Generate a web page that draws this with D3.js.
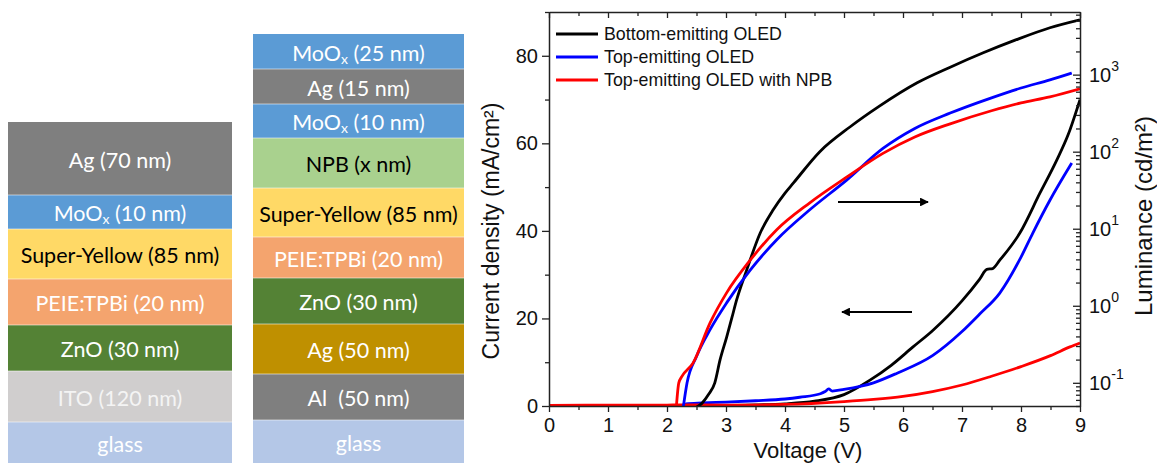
<!DOCTYPE html>
<html>
<head>
<meta charset="utf-8">
<script src="https://cdn.jsdelivr.net/npm/d3@7"></script>
<style>
  html, body { margin: 0; padding: 0; background: #fff; }
  svg { display: block; }
  text { white-space: pre; }
</style>
</head>
<body>
<svg id="chart" width="1157" height="463"></svg>
<script>
// ---------------- DATA ----------------
// Device stacks (top -> bottom)
const bottomStackLabels = ["Ag (70 nm)", "MoOx (10 nm)", "Super-Yellow (85 nm)", "PEIE:TPBi (20 nm)", "ZnO (30 nm)", "ITO (120 nm)", "glass"];
const topStackLabels = ["MoOx (25 nm)", "Ag (15 nm)", "MoOx (10 nm)", "NPB (x nm)", "Super-Yellow (85 nm)", "PEIE:TPBi (20 nm)", "ZnO (30 nm)", "Ag (50 nm)", "Al  (50 nm)", "glass"];

// Series
const seriesNames = ["Bottom-emitting OLED", "Top-emitting OLED", "Top-emitting OLED with NPB"];

// Current density (mA/cm2) vs voltage (V)
const bottomJ = [[0,0.05],[2.0,0.05],[2.5,0.1],[3.0,0.15],[3.5,0.25],[4.0,0.5],[4.5,1.1],[5.0,2.6],[5.44,5.9],[5.8,9.3],[6.17,13.5],[6.5,17.2],[7.0,24],[7.3,29],[7.42,31.2],[7.52,31.4],[7.64,33.3],[7.98,39.5],[8.32,48.6],[8.6,56],[8.8,62],[9.0,70]];
const topJ = [[0,0.05],[2.28,0.1],[2.32,0.5],[2.6,0.7],[3.0,0.9],[3.5,1.2],[4.0,1.6],[4.25,2.0],[4.6,2.8],[4.68,3.3],[4.74,3.9],[4.8,3.4],[5.0,3.8],[5.5,5.3],[5.9,7.5],[6.5,11.5],[7.0,17],[7.3,21],[7.64,25.8],[8.0,34],[8.2,39.5],[8.49,47],[8.86,55.5]];
const npbJ = [[0,0.15],[1,0.2],[2,0.2],[2.2,0.25],[3,0.2],[4,0.35],[5,1.0],[5.5,1.5],[6,2.2],[6.5,3.3],[7,4.8],[7.5,6.8],[8,9.0],[8.5,11.5],[8.83,13.5],[9,14.4]];

// Luminance (cd/m2) vs voltage (V)
const bottomL = [[2.4,0.045],[2.6,0.055],[2.7,0.07],[2.81,0.1],[2.9,0.2],[3.01,0.39],[3.1,0.7],[3.18,1.19],[3.35,2.9],[3.58,8.8],[3.8,17.6],[4.0,29],[4.14,39],[4.59,100],[5.1,209],[5.6,390],[6.24,784],[6.8,1250],[7.36,1920],[7.9,2800],[8.49,4060],[9.0,5150]];
const topL = [[2.27,0.045],[2.34,0.1],[2.5,0.22],[2.73,0.49],[3.01,1.09],[3.41,2.9],[3.86,7.2],[4.42,17.6],[5.05,43],[5.66,110],[6.2,200],[6.8,317],[7.5,500],[8.0,670],[8.49,855],[8.86,1050]];
const npbL = [[2.15,0.04],[2.2,0.1],[2.25,0.12],[2.44,0.18],[2.73,0.6],[3.01,1.47],[3.41,3.9],[3.86,9.7],[4.42,21.7],[5.05,47],[5.66,95],[6.2,155],[6.8,230],[7.5,340],[8.0,430],[8.49,515],[9.0,655]];

// Ticks
const xTicks = [0,1,2,3,4,5,6,7,8,9];
const yLeftTicks = [0,20,40,60,80];
const yRightExponents = [-1,0,1,2,3];

// ---------------- LAYOUT / STYLE ----------------
const bottomStackStyle = {x0: 8, x1: 232, edges: [122,195,229,279,325,371,422,470],
  fills: ["#7f7f7f","#5b9bd5","#ffd966","#f4a46e","#548235","#d0cece","#b4c7e7"],
  textColors: ["#fff","#fff","#000","#fff","#fff","#f4f4f4","#fff"]};
const topStackStyle = {x0: 253, x1: 464, edges: [34,69,104,138,188,237,278,324,374,420,470],
  fills: ["#5b9bd5","#7f7f7f","#5b9bd5","#a9d18e","#ffd966","#f4a46e","#548235","#bf9000","#7f7f7f","#b4c7e7"],
  textColors: ["#fff","#fff","#fff","#000","#000","#fff","#fff","#fff","#fff","#fff"]};
const seriesColors = ["#000000", "#0000ff", "#ff0000"];

const svg = d3.select("#chart");

function drawStack(labels, st) {
  const g = svg.append("g");
  labels.forEach((lab, i) => {
    const y0 = st.edges[i], y1 = st.edges[i+1];
    g.append("rect").attr("x", st.x0).attr("y", y0).attr("width", st.x1 - st.x0).attr("height", y1 - y0)
      .attr("fill", st.fills[i]);
    if (i > 0) {
      g.append("line").attr("x1", st.x0).attr("x2", st.x1).attr("y1", y0).attr("y2", y0)
        .attr("stroke", "#ffffff").attr("stroke-opacity", 0.55).attr("stroke-width", 1);
    }
    const cy = (y0 + Math.min(y1, 463)) / 2 + 1;
    const t = g.append("text").attr("x", (st.x0 + st.x1) / 2).attr("y", cy)
      .attr("text-anchor", "middle").attr("dominant-baseline", "central")
      .attr("font-family", "Lato, 'Open Sans', sans-serif").attr("font-size", 21.5)
      .attr("fill", st.textColors[i]);
    if (lab.startsWith("MoOx")) {
      t.append("tspan").text("MoO");
      t.append("tspan").attr("font-size", 14).attr("dy", 5).text("x");
      t.append("tspan").attr("dy", -5).text(lab.slice(4));
    } else {
      t.text(lab);
    }
  });
}
drawStack(bottomStackLabels, bottomStackStyle);
drawStack(topStackLabels, topStackStyle);

// ---------------- CHART ----------------
const X0 = 549, X1 = 1080, Y0 = 12, Y1 = 406;
const x = d3.scaleLinear().domain([0, 9]).range([X0, X1]);
const yL = d3.scaleLinear().domain([0, 90]).range([Y1, Y0]);
const yR = d3.scaleLog().domain([0.05, 6500]).range([Y1, Y0]);

const font = "'Liberation Sans', Arial, sans-serif";

svg.append("defs").append("clipPath").attr("id", "plotclip")
  .append("rect").attr("x", X0).attr("y", Y0 - 2).attr("width", X1 - X0).attr("height", Y1 - Y0 + 2);

const plot = svg.append("g").attr("clip-path", "url(#plotclip)");
const lineJ = d3.line().x(d => x(d[0])).y(d => yL(d[1])).curve(d3.curveMonotoneX);
const lineL = d3.line().x(d => x(d[0])).y(d => yR(d[1])).curve(d3.curveMonotoneX);

const jSeries = [bottomJ, topJ, npbJ];
const lSeries = [bottomL, topL, npbL];
[0,1,2].forEach(i => {
  plot.append("path").datum(jSeries[i]).attr("d", lineJ).attr("fill", "none")
    .attr("stroke", seriesColors[i]).attr("stroke-width", 2.8).attr("stroke-linejoin", "round");
});
[0,1,2].forEach(i => {
  plot.append("path").datum(lSeries[i]).attr("d", lineL).attr("fill", "none")
    .attr("stroke", seriesColors[i]).attr("stroke-width", 2.8).attr("stroke-linejoin", "round");
});

// Axes
function styleAxis(g) {
  g.selectAll("path.domain").attr("stroke", "#222").attr("stroke-width", 1.5);
  g.selectAll("line").attr("stroke", "#222").attr("stroke-width", 1.3);
  g.selectAll("text").attr("font-family", font).attr("font-size", 20).attr("fill", "#111");
}
const xMinor = d3.range(0.5, 9, 1);
// bottom
svg.append("g").attr("transform", `translate(0,${Y1})`)
  .call(d3.axisBottom(x).tickValues(xTicks).tickFormat(d3.format("d")).tickSizeInner(6).tickSizeOuter(0).tickPadding(6))
  .call(styleAxis);
svg.append("g").attr("transform", `translate(0,${Y1})`)
  .call(d3.axisBottom(x).tickValues(xMinor).tickFormat("").tickSizeInner(4).tickSizeOuter(0))
  .call(styleAxis).call(g => g.select(".domain").remove());
// top
svg.append("g").attr("transform", `translate(0,${Y0})`)
  .call(d3.axisTop(x).tickValues(xTicks).tickFormat("").tickSizeInner(-6).tickSizeOuter(0))
  .call(styleAxis);
svg.append("g").attr("transform", `translate(0,${Y0})`)
  .call(d3.axisTop(x).tickValues(xMinor).tickFormat("").tickSizeInner(-4).tickSizeOuter(0))
  .call(styleAxis).call(g => g.select(".domain").remove());
// left
svg.append("g").attr("transform", `translate(${X0},0)`)
  .call(d3.axisLeft(yL).tickValues(yLeftTicks).tickFormat(d3.format("d")).tickSizeInner(7).tickSizeOuter(0).tickPadding(4))
  .call(styleAxis);
svg.append("g").attr("transform", `translate(${X0},0)`)
  .call(d3.axisLeft(yL).tickValues([10,30,50,70,90]).tickFormat("").tickSizeInner(4).tickSizeOuter(0))
  .call(styleAxis).call(g => g.select(".domain").remove());
// right (log)
const rMajor = yRightExponents.map(e => Math.pow(10, e));
const rMinor = [];
for (let e = -2; e <= 3; e++) for (let m = 2; m <= 9; m++) {
  const v = m * Math.pow(10, e);
  if (v >= 0.05 && v <= 6500) rMinor.push(v);
}
const rightAxis = svg.append("g").attr("transform", `translate(${X1},0)`)
  .call(d3.axisRight(yR).tickValues(rMajor).tickFormat("").tickSizeInner(-7).tickSizeOuter(0).tickPadding(10))
  .call(styleAxis);
rightAxis.selectAll(".tick text").each(function(d) {
  const t = d3.select(this);
  const e = Math.round(Math.log10(d));
  t.text(null).attr("x", 9).attr("dy", "0.32em");
  t.append("tspan").text("10");
  t.append("tspan").attr("font-size", 14).attr("dy", "-0.75em").text(String(e));
});
svg.append("g").attr("transform", `translate(${X1},0)`)
  .call(d3.axisRight(yR).tickValues(rMinor).tickFormat("").tickSizeInner(-4).tickSizeOuter(0))
  .call(styleAxis).call(g => g.select(".domain").remove());

// Titles
svg.append("text").attr("x", 808).attr("y", 458).attr("text-anchor", "middle")
  .attr("font-family", font).attr("font-size", 22).attr("fill", "#111").text("Voltage (V)");
svg.append("text").attr("transform", "translate(491,231) rotate(-90)").attr("text-anchor", "middle")
  .attr("dominant-baseline", "central").attr("font-family", font).attr("font-size", 23).attr("fill", "#111")
  .text("Current density (mA/cm²)");
svg.append("text").attr("transform", "translate(1143,216) rotate(-90)").attr("text-anchor", "middle")
  .attr("dominant-baseline", "central").attr("font-family", font).attr("font-size", 24).attr("fill", "#111")
  .text("Luminance (cd/m²)");

// Legend
const legend = svg.append("g");
seriesNames.forEach((name, i) => {
  const ly = 34 + i * 23;
  legend.append("line").attr("x1", 556).attr("x2", 598).attr("y1", ly).attr("y2", ly)
    .attr("stroke", seriesColors[i]).attr("stroke-width", 3);
  legend.append("text").attr("x", 604).attr("y", ly).attr("dominant-baseline", "central")
    .attr("font-family", font).attr("font-size", 17.8).attr("fill", "#111").text(name);
});

// Arrows
const defs = svg.select("defs");
defs.append("marker").attr("id", "ah").attr("viewBox", "0 0 10 10").attr("refX", 9).attr("refY", 5)
  .attr("markerWidth", 5).attr("markerHeight", 4).attr("markerUnits", "strokeWidth").attr("orient", "auto")
  .append("path").attr("d", "M0,0 L10,5 L0,10 Z").attr("fill", "#000");
svg.append("line").attr("x1", 838).attr("x2", 928).attr("y1", 202).attr("y2", 202)
  .attr("stroke", "#000").attr("stroke-width", 2.2).attr("marker-end", "url(#ah)");
svg.append("line").attr("x1", 912).attr("x2", 842).attr("y1", 312).attr("y2", 312)
  .attr("stroke", "#000").attr("stroke-width", 2.2).attr("marker-end", "url(#ah)");
</script>
</body>
</html>
